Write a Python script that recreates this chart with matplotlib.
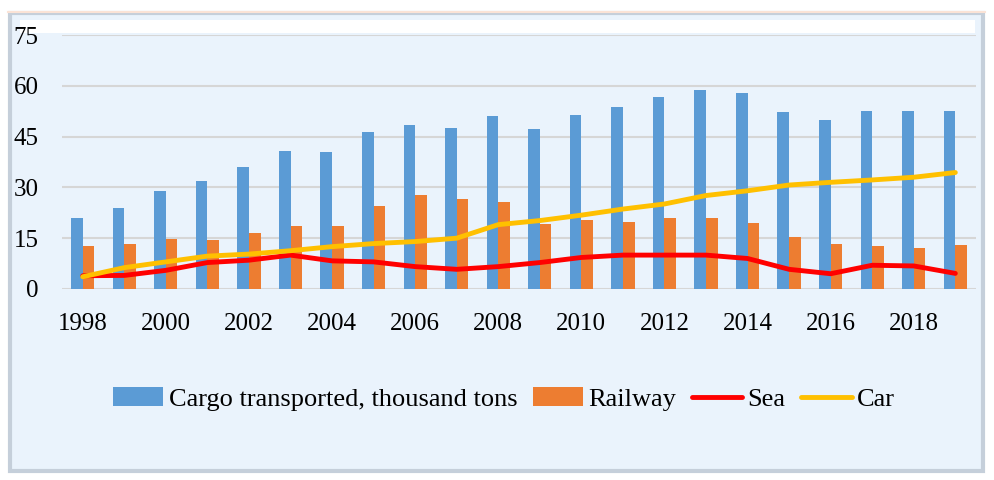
import numpy as np
import matplotlib
matplotlib.use('Agg')
import matplotlib.pyplot as plt
from matplotlib.patches import Rectangle

years = list(range(1998, 2020))
cargo = [21.0, 24.0, 29.0, 32.0, 35.9, 40.8, 40.4, 46.4, 48.4, 47.6, 51.1,
         47.3, 51.5, 53.7, 56.7, 58.7, 57.9, 52.2, 50.0, 52.6, 52.6, 52.6]
railway = [12.6, 13.4, 14.9, 14.5, 16.5, 18.7, 18.7, 24.4, 27.9, 26.7, 25.6,
           19.1, 20.3, 19.9, 20.9, 20.9, 19.5, 15.3, 13.4, 12.6, 12.2, 13.0]
sea = [3.9, 4.0, 5.5, 7.8, 8.5, 10.0, 8.3, 8.0, 6.6, 5.8, 6.6,
       7.8, 9.3, 10.0, 10.0, 10.0, 9.0, 5.8, 4.5, 7.0, 6.8, 4.6]
car = [3.6, 6.3, 8.0, 9.7, 10.3, 11.3, 12.5, 13.4, 14.0, 15.0, 19.0,
       20.2, 21.8, 23.6, 25.1, 27.6, 29.0, 30.7, 31.5, 32.2, 33.0, 34.4]
tick_years = list(range(1998, 2019, 2))

plt.rcParams['font.family'] = ['Liberation Serif', 'DejaVu Serif']

fig = plt.figure(figsize=(9.95, 4.8), dpi=100)
fig.patch.set_facecolor('white')

# frame behind the chart (drawn below the axes)
bg = Rectangle((0.010, 0.018), 0.978, 0.955, transform=fig.transFigure,
               facecolor='#EAF3FC', edgecolor='#C5CFDA', linewidth=3, zorder=-2)
fig.add_artist(bg)
fig.add_artist(plt.Line2D([0.008, 0.99], [0.975, 0.975], transform=fig.transFigure,
                          color='#FBE3D6', linewidth=1.5, zorder=-1))
strip = Rectangle((0.02, 0.931), 0.96, 0.027, transform=fig.transFigure,
                  facecolor='white', edgecolor='none', zorder=-1)
fig.add_artist(strip)

ax = fig.add_axes([0.0623, 0.398, 0.9187, 0.529])
ax.set_zorder(2)
ax.set_facecolor('#EAF3FC')

x = np.arange(len(years))
w = 0.28
b1 = ax.bar(x - w/2, cargo, width=w, color='#5B9BD5', label='Cargo transported, thousand tons', zorder=2)
b2 = ax.bar(x + w/2, railway, width=w, color='#ED7D31', label='Railway', zorder=2)
l1, = ax.plot(x, sea, color='#FF0000', linewidth=3.5, label='Sea', zorder=3,
              solid_joinstyle='round', solid_capstyle='round')
l2, = ax.plot(x, car, color='#FFC000', linewidth=3.5, label='Car', zorder=3,
              solid_joinstyle='round', solid_capstyle='round')

ax.set_xlim(-0.5, len(years) - 0.5)
ax.set_ylim(0, 75)
ax.set_yticks(range(0, 76, 15))
ax.set_xticks([years.index(y) for y in tick_years])
ax.set_xticklabels([str(y) for y in tick_years])
ax.grid(axis='y', color='#D6D6D6', linewidth=1.5, zorder=1)
ax.set_axisbelow(True)
for s in ax.spines.values():
    s.set_visible(False)
ax.tick_params(axis='both', length=0, labelsize=18)
ax.tick_params(axis='y', pad=17)
ax.tick_params(axis='x', pad=17)

fig.legend([b1, b2, l1, l2], [h.get_label() for h in (b1, b2, l1, l2)],
           loc='center', bbox_to_anchor=(504/995, 1 - 399/480), ncol=4,
           frameon=False, fontsize=19, handlelength=1.9, handletextpad=0.2,
           columnspacing=0.6)

fig.savefig('out.png', dpi=100)
